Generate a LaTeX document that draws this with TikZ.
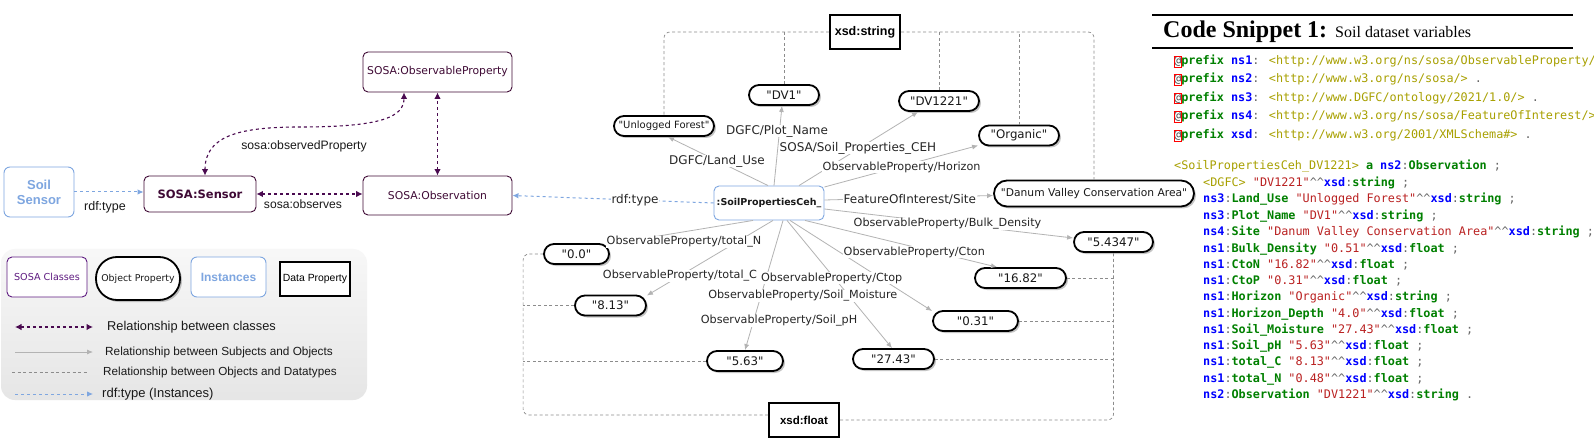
\documentclass[tikz,border=0pt]{standalone}
\usepackage{fontspec}
\setmainfont{DejaVu Sans}
\newfontfamily\dvs{DejaVu Sans}
\newfontfamily\lib{Liberation Sans}
\newfontfamily\mono{DejaVu Sans Mono}
\newfontfamily\ser{Liberation Serif}
\usetikzlibrary{arrows.meta,shadows,calc}
\definecolor{cclass}{HTML}{3F0A35}
\definecolor{cleg}{HTML}{5E1A80}
\definecolor{cpur}{HTML}{4A0A50}
\definecolor{cblue}{HTML}{7EA6E0}
\definecolor{cgray}{HTML}{B3B3B3}
\definecolor{kwg}{HTML}{008000}
\definecolor{nsb}{HTML}{0000FF}
\definecolor{iric}{HTML}{A8A000}
\definecolor{strr}{HTML}{BA2121}
\definecolor{opg}{HTML}{666666}
\newcommand\fsz[1]{\fontsize{#1}{#1}\selectfont}
\newcommand\ckw[1]{\textcolor{kwg}{\bfseries #1}}
\newcommand\cns[1]{\textcolor{nsb}{\bfseries #1}}
\newcommand\ciri[1]{\textcolor{iric}{#1}}
\newcommand\cstr[1]{\textcolor{strr}{#1}}
\newcommand\cop[1]{\textcolor{opg}{#1}}
\newcommand\hh{\cop{\textasciicircum\textasciicircum}}
\newcommand\cat{{\fboxsep=0pt\fboxrule=0.6pt\kern-0.6pt\fcolorbox{red}{white}{\textcolor{black!70}{@}}\kern-0.6pt}}
\tikzset{
  cls/.style={draw=cclass, line width=0.9pt, rounded corners=5pt, fill=white, text=cclass, inner sep=0pt, font={\fsz{10.8}}},
  inst/.style={draw=cblue, line width=0.9pt, rounded corners=6pt, fill=white, text=cblue, inner sep=0pt},
  val/.style={draw=black, line width=1.8pt, rounded corners=10pt, fill=white,
    drop shadow={shadow xshift=2pt, shadow yshift=-2pt, fill=black!45, opacity=0.5},
    inner sep=0pt, minimum height=20pt, font={\dvs\fsz{11.8}}, text=black!90},
  dprop/.style={draw=black, line width=2pt, fill=white, inner sep=0pt, minimum width=70pt, minimum height=34pt, font={\lib\bfseries\fsz{12.5}}},
  rel/.style={draw=cpur, dash pattern=on 3pt off 3pt, line width=1.1pt, {Latex[length=6.5pt,width=6.5pt]}-{Latex[length=6.5pt,width=6.5pt]}},
  typ/.style={draw=cblue, dash pattern=on 3pt off 3pt, line width=1pt, -{Latex[length=6pt,width=5.5pt]}},
  sub/.style={draw=cgray, line width=0.8pt, -{Latex[length=6pt,width=5pt]}},
  dt/.style={draw=black!45, dash pattern=on 3pt off 2.5pt, line width=0.7pt},
  lbl/.style={inner sep=0.5pt, text=black!85, fill=white},
  lgt/.style={inner sep=0pt, anchor=west, text=black!90},
  legbg/.style={top color=black!3, bottom color=black!10, rounded corners=14pt, inner sep=0pt},
  code/.style={inner sep=0pt, anchor=west, font={\mono\fsz{11.8}}, text=opg, text height=8.5pt, text depth=2.5pt},
}
\begin{document}
\begin{tikzpicture}[x=1pt,y=-1pt]
\fill[white] (0,0) rectangle (1594,438);
\useasboundingbox (0,0) rectangle (1594,438);

% ---------- legend background
\node[legbg, minimum width=366pt, minimum height=151pt] (leg) at (184,324.5) {};

% ---------- class nodes
\node[cls, minimum width=149pt, minimum height=40pt] (obsprop) at (437.5,72) {SOSA:ObservableProperty};
\node[cls, minimum width=112pt, minimum height=36pt, font={\bfseries\fsz{11.5}}] (sensor) at (200,194) {SOSA:Sensor};
\node[cls, minimum width=149pt, minimum height=39pt] (obs) at (437.5,195.5) {SOSA:Observation};
\node[inst, minimum width=70pt, minimum height=50pt, align=center, font={\lib\bfseries\fontsize{13}{15}\selectfont}] (ss) at (39,192) {Soil\\Sensor};

% ---------- instance
\node[inst, minimum width=110pt, minimum height=34pt, text=black!90, font={\bfseries\fsz{9.5}}, rounded corners=5pt] (sp) at (769,203) {:SoilPropertiesCeh\_};

% ---------- values
\node[val, minimum width=100pt, font={\dvs\fsz{10}}] (uf) at (664,126) {"Unlogged Forest"};
\node[val, minimum width=70pt] (dv1) at (784,95) {"DV1"};
\node[val, minimum width=80pt] (dv1221) at (939,101) {"DV1221"};
\node[val, minimum width=80pt] (organic) at (1019,135.5) {"Organic"};
\node[val, minimum width=200pt, minimum height=26pt, rounded corners=13pt, font={\dvs\fsz{10.7}}] (danum) at (1094,193.5) {"Danum Valley Conservation Area"};
\node[val, minimum width=79pt] (v54347) at (1113.5,242) {"5.4347"};
\node[val, minimum width=91pt] (v1682) at (1020.5,278) {"16.82"};
\node[val, minimum width=85pt] (v031) at (975.5,321) {"0.31"};
\node[val, minimum width=81pt] (v2743) at (893.5,359) {"27.43"};
\node[val, minimum width=76pt] (v563) at (745,361) {"5.63"};
\node[val, minimum width=71pt] (v813) at (610.5,305.5) {"8.13"};
\node[val, minimum width=65pt] (v00) at (576.5,254) {"0.0"};

% ---------- datatypes
\node[dprop] (xsdstring) at (865,32) {xsd:string};
\node[dprop, font={\lib\bfseries\fsz{11.5}}] (xsdfloat) at (804,420) {xsd:float};

% ---------- datatype dashed links
\draw[dt, rounded corners=6pt] (xsdstring.west) -| (uf.north);
\draw[dt] (dv1.north) -- (dv1.north |- xsdstring.west);
\draw[dt] (dv1221.north) -- (dv1221.north |- xsdstring.west);
\draw[dt] (organic.north) -- (organic.north |- xsdstring.west);
\draw[dt, rounded corners=6pt] (xsdstring.east) -| (danum.north);
\coordinate (fl) at ($(v00.west)+(-20,0)$);
\draw[dt, rounded corners=6pt] ([yshift=5pt]xsdfloat.west) -| (fl) -- (v00.west);
\draw[dt] (v813.west) -- (v813.west -| fl);
\draw[dt] (v563.west) -- (v563.west -| fl);
\draw[dt, rounded corners=6pt] (xsdfloat.east) -| (v54347.south);
\draw[dt] (v1682.east) -- (v1682.east -| v54347.south);
\draw[dt] (v031.east) -- (v031.east -| v54347.south);
\draw[dt] (v2743.east) -- (v2743.east -| v54347.south);

% ---------- subject-object links
\draw[sub] ($(sp.north)+(-1,0)$) -- ($(uf.south)+(4,0)$);
\draw[sub] ($(sp.north)+(5,0)$) -- ($(dv1.south)+(-2,0)$);
\draw[sub] ($(sp.north)+(30,0)$) -- ($(dv1221.south)+(-21,0)$);
\draw[sub] ($(sp.east)+(0,-16)$) -- ($(organic.west)+(0,10)$);
\draw[sub] ($(sp.east)+(0,-3)$) -- ($(danum.west)+(0,2)$);
\draw[sub] ($(sp.east)+(0,6)$) -- ($(v54347.west)+(0,-4)$);
\draw[sub] ($(sp.south)+(36,0)$) -- ($(v1682.north)+(-23.5,0)$);
\draw[sub] ($(sp.south)+(21,0)$) -- ($(v031.west)+(0,-10)$);
\draw[sub] ($(sp.south)+(18,0)$) -- ($(v2743.north)+(-1.5,0)$);
\draw[sub] ($(sp.south)+(14,0)$) -- (v563.north);
\draw[sub] ($(sp.south)+(4,0)$) -- ($(v813.east)+(0,-10)$);
\draw[sub] ($(sp.south)+(-16,0)$) -- ($(v00.east)+(0,-10)$);

% ---------- edge labels (centre graph)
\node[lbl, font={\fsz{12}}] (lLand) at (717,161) {DGFC/Land\_Use};
\node[lbl, font={\fsz{12}}] (lPlot) at (777,131) {DGFC/Plot\_Name};
\node[lbl, font={\fsz{12}}, anchor=west] (lCEH) at (779,148) {SOSA/Soil\_Properties\_CEH};
\node[lbl, font={\fsz{11.2}}, anchor=west] (lHor) at (822,167) {ObservableProperty/Horizon};
\node[lbl, font={\fsz{12}}, anchor=west] (lSite) at (843,199) {FeatureOfInterest/Site};
\node[lbl, font={\fsz{11.2}}, anchor=west] (lBulk) at (853,224) {ObservableProperty/Bulk\_Density};
\node[lbl, font={\fsz{11.2}}, anchor=west] (lCton) at (843,252) {ObservableProperty/Cton};
\node[lbl, font={\fsz{11.2}}, anchor=east] (lCtop) at (903,278) {ObservableProperty/Ctop};
\node[lbl, font={\fsz{11.2}}, anchor=east] (lMoist) at (898,296) {ObservableProperty/Soil\_Moisture};
\node[lbl, font={\fsz{11.2}}] (lpH) at (779,321) {ObservableProperty/Soil\_pH};
\node[lbl, font={\fsz{11.2}}] (lC) at (680,276) {ObservableProperty/total\_C};
\node[lbl, font={\fsz{11.2}}] (lN) at (684,242) {ObservableProperty/total\_N};

% ---------- left relations
\draw[typ] (ss.east) -- (ss.east -| sensor.west);
\draw[rel] (sensor.east) -- (sensor.east -| obs.west);
\draw[rel] (obs.north) -- (obsprop.south);
\coordinate (cm) at (300,127);
\draw[rel] ([xshift=5pt]sensor.north) .. controls +(0,-40) and +(-60,0) .. (cm)
  .. controls +(80,0) and +(0,25) .. ([xshift=-33.5pt]obsprop.south);
\draw[typ] (sp.west) -- (obs.east);
\node[inner sep=0pt, font={\lib\fsz{12.5}}, text=black!90] (lrdf1) at (105,207) {rdf:type};
\node[inner sep=0pt, font={\lib\fsz{12.1}}, text=black!90] (lobs) at (303,204) {sosa:observes};
\node[inner sep=0pt, font={\lib\fsz{12.2}}, text=black!90] (lobp) at (304,146) {sosa:observedProperty};
\node[lbl, font={\fsz{12}}] (lrdf2) at (635,200) {rdf:type};

% ---------- legend
\node[cls, draw=cleg, text=cleg, minimum width=80pt, minimum height=40pt, font={\fsz{9.6}}] (lc) at (47,277) {SOSA Classes};
\node[val, minimum width=84pt, minimum height=43pt, rounded corners=21pt, font={\dvs\fsz{9.4}}] (lo) at (138,278.5) {Object Property};
\node[inst, minimum width=75pt, minimum height=40pt, font={\lib\bfseries\fsz{12}}] (li) at (228.5,277) {Instances};
\node[dprop, font={\lib\fsz{10.4}}] (ld) at (315,279) {Data Property};
\coordinate (a1) at (15,327); \coordinate (b1) at (93,327);
\coordinate (a2) at (15,352); \coordinate (b2) at (93,352);
\coordinate (a3) at (12,372); \coordinate (b3) at (88,372);
\coordinate (a4) at (15,394); \coordinate (b4) at (93,394);
\draw[rel] (a1) -- (b1);
\draw[sub] (a2) -- (b2);
\draw[dt] (a3) -- (b3);
\draw[typ] (a4) -- (b4);
\node[lgt, font={\lib\fsz{12.8}}] (t1) at (107,327) {Relationship between classes};
\node[lgt, font={\lib\fsz{11.8}}] (t2) at (105,352) {Relationship between Subjects and Objects};
\node[lgt, font={\lib\fsz{11.7}}] (t3) at (103,372) {Relationship between Objects and Datatypes};
\node[lgt, font={\lib\fsz{13}}] (t4) at (102,394) {rdf:type (Instances)};

% ---------- code snippet
\draw[line width=1.6pt] (1152,15) -- (1573,15);
\draw[line width=1.4pt] (1152,48) -- (1573,48);
\node[inner sep=0pt, anchor=base west, font={\ser\fontsize{24}{24}\selectfont}] (title) at (1163,38)
  {\textbf{Code Snippet 1:} {\fontsize{16}{16}\selectfont Soil dataset variables}};
\node[code] (c1) at (1174,62) {\cat\ckw{prefix} \cns{ns1}\cop{:} \ciri{<http://www.w3.org/ns/sosa/ObservableProperty/}};
\node[code] (c2) at (1174,80) {\cat\ckw{prefix} \cns{ns2}\cop{:} \ciri{<http://www.w3.org/ns/sosa/>} .};
\node[code] (c3) at (1174,98.5) {\cat\ckw{prefix} \cns{ns3}\cop{:} \ciri{<http://www.DGFC/ontology/2021/1.0/>} .};
\node[code] (c4) at (1174,117) {\cat\ckw{prefix} \cns{ns4}\cop{:} \ciri{<http://www.w3.org/ns/sosa/FeatureOfInterest/>}};
\node[code] (c5) at (1174,136) {\cat\ckw{prefix} \cns{xsd}\cop{:} \ciri{<http://www.w3.org/2001/XMLSchema\#>} .};
\node[code] (c6) at (1174,167) {\ciri{<SoilPropertiesCeh\_DV1221>} \ckw{a} \cns{ns2}:\ckw{Observation} ;};
\node[code] (c7) at (1203,183.5) {\ciri{<DGFC>} \cstr{"DV1221"}\hh\cns{xsd}:\ckw{string} ;};
\node[code] (c8) at (1203,200) {\cns{ns3}:\ckw{Land\_Use} \cstr{"Unlogged Forest"}\hh\cns{xsd}:\ckw{string} ;};
\node[code] (c9) at (1203,216.5) {\cns{ns3}:\ckw{Plot\_Name} \cstr{"DV1"}\hh\cns{xsd}:\ckw{string} ;};
\node[code] (c10) at (1203,233) {\cns{ns4}:\ckw{Site} \cstr{"Danum Valley Conservation Area"}\hh\cns{xsd}:\ckw{string} ;};
\node[code] (c11) at (1203,249) {\cns{ns1}:\ckw{Bulk\_Density} \cstr{"0.51"}\hh\cns{xsd}:\ckw{float} ;};
\node[code] (c12) at (1203,265.5) {\cns{ns1}:\ckw{CtoN} \cstr{"16.82"}\hh\cns{xsd}:\ckw{float} ;};
\node[code] (c13) at (1203,281.5) {\cns{ns1}:\ckw{CtoP} \cstr{"0.31"}\hh\cns{xsd}:\ckw{float} ;};
\node[code] (c14) at (1203,297.5) {\cns{ns1}:\ckw{Horizon} \cstr{"Organic"}\hh\cns{xsd}:\ckw{string} ;};
\node[code] (c15) at (1203,314) {\cns{ns1}:\ckw{Horizon\_Depth} \cstr{"4.0"}\hh\cns{xsd}:\ckw{float} ;};
\node[code] (c16) at (1203,330) {\cns{ns1}:\ckw{Soil\_Moisture} \cstr{"27.43"}\hh\cns{xsd}:\ckw{float} ;};
\node[code] (c17) at (1203,346) {\cns{ns1}:\ckw{Soil\_pH} \cstr{"5.63"}\hh\cns{xsd}:\ckw{float} ;};
\node[code] (c18) at (1203,362.5) {\cns{ns1}:\ckw{total\_C} \cstr{"8.13"}\hh\cns{xsd}:\ckw{float} ;};
\node[code] (c19) at (1203,379) {\cns{ns1}:\ckw{total\_N} \cstr{"0.48"}\hh\cns{xsd}:\ckw{float} ;};
\node[code] (c20) at (1203,395) {\cns{ns2}:\ckw{Observation} \cstr{"DV1221"}\hh\cns{xsd}:\ckw{string} .};
\end{tikzpicture}
\end{document}
